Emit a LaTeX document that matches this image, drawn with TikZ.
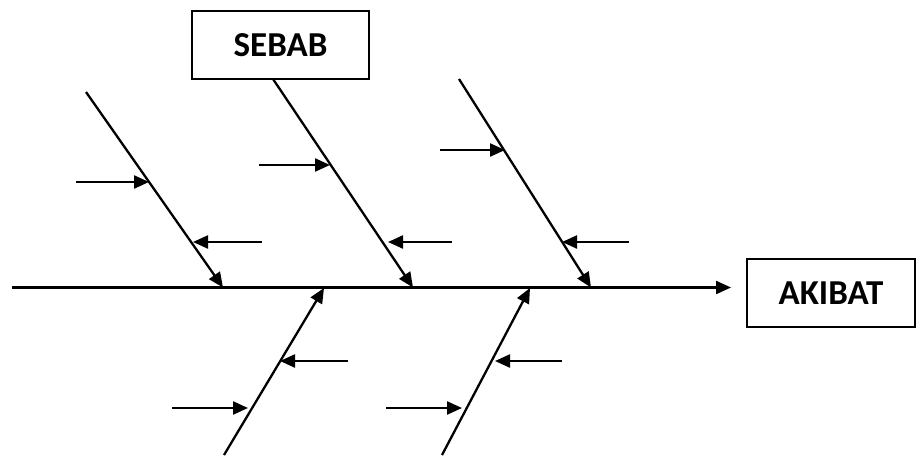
\documentclass[tikz,border=0pt]{standalone}
\usepackage{fontspec}
\setmainfont{Carlito}
\usetikzlibrary{arrows.meta}
\tikzset{
  line/.style={line width=2.3pt, line cap=butt},
  arr/.style={line, -{Triangle[length=15pt,width=13pt]}},
  label box/.style={draw, line width=1.6pt, inner sep=0pt, minimum height=68pt,
    font=\fontsize{35}{38}\selectfont\bfseries}
}
\begin{document}
\begin{tikzpicture}[x=1pt,y=-1pt]
\useasboundingbox (0,0) rectangle (917,455);
% labels
\node[label box, minimum width=177pt] (sebab) at (280.5,45) {SEBAB};
\node[label box, minimum width=168pt] (akibat) at (831,293) {AKIBAT};
% spine
\coordinate (tail) at (12,287.5);
\coordinate (head) at (731,287.5);
\draw[arr] (tail) -- (head);
% upper bones
\coordinate (u1s) at (86,92);   \coordinate (u1e) at (223,287.5);
\coordinate (u2s) at (273,79);  \coordinate (u2e) at (413,287.5);
\coordinate (u3s) at (459,79);  \coordinate (u3e) at (591,287.5);
\draw[arr] (u1s) -- (u1e);
\draw[arr] (u2s) -- (u2e);
\draw[arr] (u3s) -- (u3e);
% lower bones
\coordinate (l1s) at (224,455); \coordinate (l1e) at (324,288);
\coordinate (l2s) at (442,455); \coordinate (l2e) at (530,288);
\draw[arr] (l1s) -- (l1e);
\draw[arr] (l2s) -- (l2e);
% minor causes
\foreach \n/\sx/\ex/\y in {
  a/76/149/182, b/262/193/242, c/259/330/165, d/452/388/242,
  e/440/505/150, f/629/562/242,
  g/348/280/361, h/172/248/408, i/562/495/361, j/386/462/408}{
  \coordinate (\n s) at (\sx,\y);
  \coordinate (\n e) at (\ex,\y);
  \draw[arr] (\n s) -- (\n e);
}
\end{tikzpicture}
\end{document}
